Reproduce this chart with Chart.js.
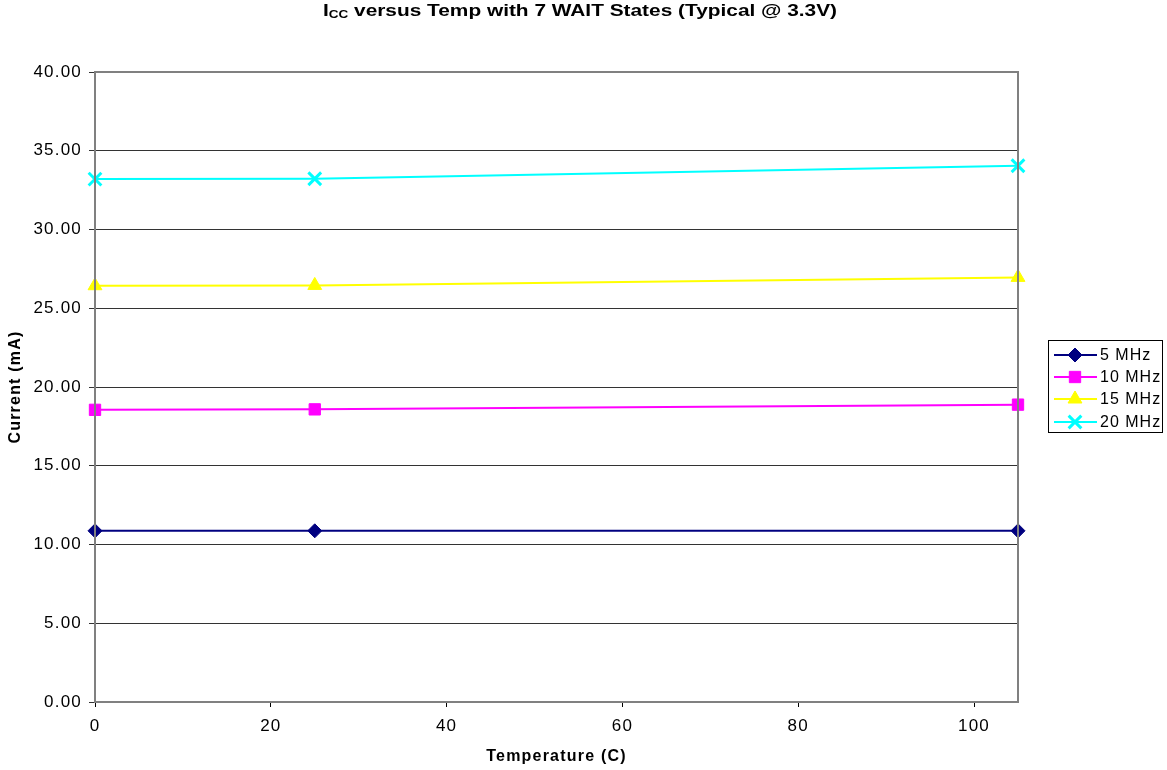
<!DOCTYPE html>
<html>
<head>
<meta charset="utf-8">
<script src="https://cdn.jsdelivr.net/npm/chart.js@4/dist/chart.umd.min.js"></script>
<style>
  html, body { margin: 0; padding: 0; background: #fff; }
  #wrap { width: 1167px; height: 770px; }
</style>
</head>
<body>
<div id="wrap"><canvas id="c"></canvas></div>
<script>
// temperatures (C) and typical current (mA) per clock
const temps = [0, 25, 105]
const mhz5 = [10.87, 10.87, 10.87]
const mhz10 = [18.55, 18.58, 18.88]
const mhz15 = [26.43, 26.45, 26.96]
const mhz20 = [33.2, 33.22, 34.05]
const seriesNames = ['5 MHz', '10 MHz', '15 MHz', '20 MHz']
const yTicks = [0, 5, 10, 15, 20, 25, 30, 35, 40]
const xTicks = [0, 20, 40, 60, 80, 100]

const FONT = 'Arial, "Liberation Sans", sans-serif'
const SPACING = '1.2px'

const pts = (ys) => temps.map((t, i) => ({ x: t, y: ys[i] }))

const mk = (label, data, color, style, radius, bw) => ({
  label,
  data: pts(data),
  borderColor: color,
  backgroundColor: color,
  pointBackgroundColor: color,
  pointBorderColor: color,
  pointStyle: style,
  pointRadius: radius,
  pointBorderWidth: bw,
  borderWidth: 2,
  tension: 0,
  clip: false
})

// wider text, plot frame, title with subscript, boxed legend
const extras = {
  id: 'extras',
  beforeUpdate(chart) { chart.ctx.letterSpacing = SPACING },
  beforeDraw(chart) { chart.ctx.letterSpacing = SPACING },
  afterDraw(chart) {
    const ctx = chart.ctx
    const a = chart.chartArea
    ctx.save()
    ctx.strokeStyle = '#808080'
    ctx.lineWidth = 2
    ctx.strokeRect(a.left, a.top, a.right - a.left, a.bottom - a.top)

    // title, stretched to the reference width
    ctx.letterSpacing = '0px'
    ctx.fillStyle = '#000'
    ctx.textBaseline = 'alphabetic'
    ctx.textAlign = 'left'
    const main = ' versus Temp with 7 WAIT States (Typical @ 3.3V)'
    ctx.font = 'bold 17px ' + FONT
    const wI = ctx.measureText('I').width
    const wMain = ctx.measureText(main).width
    ctx.font = 'bold 11px ' + FONT
    const wSub = ctx.measureText('CC').width
    const k = 514 / (wI + wSub + wMain)
    ctx.save()
    ctx.translate(323, 16)
    ctx.scale(k, 1)
    let x = 0
    ctx.font = 'bold 17px ' + FONT
    ctx.fillText('I', x, 0)
    x += wI
    ctx.font = 'bold 11px ' + FONT
    ctx.fillText('CC', x, 2)
    x += wSub
    ctx.font = 'bold 17px ' + FONT
    ctx.fillText(main, x, 0)
    ctx.restore()

    // legend
    const lx = 1048, ly = 340, lw = 114, lh = 92
    ctx.fillStyle = '#fff'
    ctx.fillRect(lx, ly, lw, lh)
    ctx.strokeStyle = '#000'
    ctx.lineWidth = 1
    ctx.strokeRect(lx + 0.5, ly + 0.5, lw, lh)
    ctx.font = '16px ' + FONT
    ctx.letterSpacing = '1px'
    ctx.textBaseline = 'middle'
    const rows = [355, 377, 399, 422]
    chart.data.datasets.forEach((ds, i) => {
      const cy = rows[i]
      ctx.strokeStyle = ds.borderColor
      ctx.fillStyle = ds.backgroundColor
      ctx.lineWidth = 2
      ctx.beginPath()
      ctx.moveTo(lx + 6, cy)
      ctx.lineTo(lx + 49, cy)
      ctx.stroke()
      ctx.lineWidth = ds.pointBorderWidth
      Chart.helpers.drawPoint(ctx, {
        pointStyle: ds.pointStyle,
        radius: ds.pointRadius,
        borderWidth: ds.pointBorderWidth,
        rotation: 0
      }, lx + 27, cy)
      ctx.fillStyle = '#000'
      ctx.fillText(ds.label, lx + 52, cy + 1)
    })
    ctx.restore()
  }
}

new Chart(document.getElementById('c'), {
  type: 'line',
  data: {
    datasets: [
      mk(seriesNames[0], mhz5, '#000080', 'rectRot', 7, 1),
      mk(seriesNames[1], mhz10, '#FF00FF', 'rect', 8, 1),
      mk(seriesNames[2], mhz15, '#FFFF00', 'triangle', 8, 1),
      mk(seriesNames[3], mhz20, '#00FFFF', 'crossRot', 9, 3)
    ]
  },
  options: {
    responsive: true,
    maintainAspectRatio: false,
    animation: false,
    layout: { padding: { top: 72, right: 149, left: 0, bottom: 0 } },
    plugins: {
      legend: { display: false },
      title: { display: false },
      tooltip: { enabled: false }
    },
    scales: {
      x: {
        type: 'linear',
        min: 0,
        max: 105,
        afterBuildTicks: (s) => { s.ticks = xTicks.map(v => ({ value: v })) },
        afterFit: (s) => { s.height = 68 },
        grid: { drawOnChartArea: false, drawTicks: true, tickLength: 5, color: '#000' },
        border: { color: '#808080', width: 2 },
        ticks: { color: '#000', font: { family: FONT, size: 17 }, padding: 9, maxRotation: 0 },
        title: { display: true, text: 'Temperature (C)', color: '#000', font: { family: FONT, size: 16, weight: 'bold' }, padding: { top: 4 } }
      },
      y: {
        min: 0,
        max: 40,
        afterBuildTicks: (s) => { s.ticks = yTicks.map(v => ({ value: v })) },
        afterFit: (s) => { s.width = 95 },
        grid: { color: '#333', lineWidth: 1, tickLength: 6 },
        border: { color: '#808080', width: 2 },
        ticks: { color: '#000', font: { family: FONT, size: 17 }, padding: 7, callback: (v) => v.toFixed(2) },
        title: { display: true, text: 'Current (mA)', color: '#000', font: { family: FONT, size: 16, weight: 'bold' }, padding: { bottom: 0, top: 6 } }
      }
    }
  },
  plugins: [extras]
})
</script>
</body>
</html>
